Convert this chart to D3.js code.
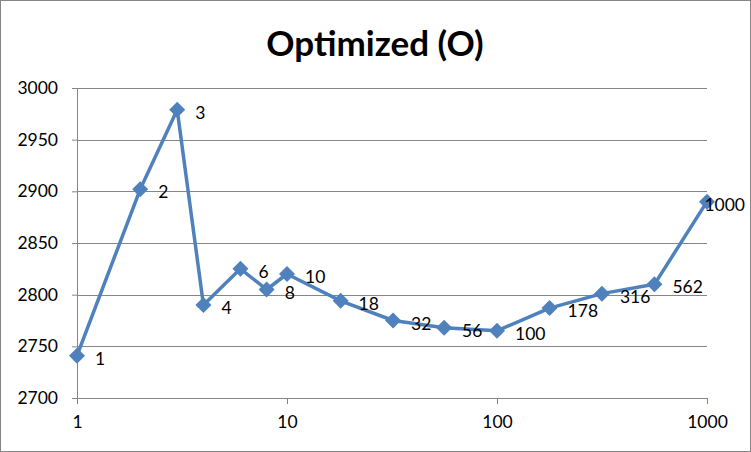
<!DOCTYPE html>
<html>
<head>
<meta charset="utf-8">
<script src="https://cdn.jsdelivr.net/npm/d3@7"></script>
<style>
  body { margin: 0; background: #fff; }
  svg { font-family: Lato, "Open Sans", sans-serif; }
</style>
</head>
<body>
<svg id="chart"></svg>
<script>
// data
const xValues = [1, 2, 3, 4, 6, 8, 10, 18, 32, 56, 100, 178, 316, 562, 1000];
const yValues = [2741, 2902, 2979, 2790, 2825, 2805, 2820, 2794, 2775, 2768, 2765, 2787, 2801, 2810, 2890];
const pointLabels = ["1", "2", "3", "4", "6", "8", "10", "18", "32", "56", "100", "178", "316", "562", "1000"];
const xTicks = [1, 10, 100, 1000];
const yTicks = [2700, 2750, 2800, 2850, 2900, 2950, 3000];

const width = 751, height = 452;
const margin = {top: 88, right: 44, bottom: 54, left: 77};
const innerWidth = width - margin.left - margin.right;
const innerHeight = height - margin.top - margin.bottom;

const svg = d3.select("#chart").attr("width", width).attr("height", height);

// chart border
svg.append("rect")
  .attr("x", 0.5).attr("y", 0.5)
  .attr("width", width - 1).attr("height", height - 1)
  .attr("fill", "#fff").attr("stroke", "#868686");

svg.append("text")
  .attr("x", 375).attr("y", 56)
  .attr("text-anchor", "middle")
  .style("font-size", "35px").style("font-weight", "bold")
  .text("Optimized (O)");

const g = svg.append("g").attr("transform", `translate(${margin.left},${margin.top})`);

const xScale = d3.scaleLog().domain([1, 1000]).range([0, innerWidth]);
const yScale = d3.scaleLinear().domain([2700, 3000]).range([innerHeight, 0]);

// gridlines
g.selectAll(".grid").data(yTicks.slice(1)).join("line")
  .attr("class", "grid")
  .attr("x1", 0).attr("x2", innerWidth)
  .attr("y1", d => Math.round(yScale(d)) + 0.5).attr("y2", d => Math.round(yScale(d)) + 0.5)
  .attr("stroke", "#868686");

const yAxis = d3.axisLeft(yScale).tickValues(yTicks).tickSize(5).tickPadding(14).tickFormat(d3.format("d"));
const xAxis = d3.axisBottom(xScale).tickValues(xTicks).tickSize(6).tickPadding(12).tickFormat(d3.format("d"));

g.append("g").attr("class", "y-axis").call(yAxis);
g.append("g").attr("class", "x-axis").attr("transform", `translate(0,${innerHeight})`).call(xAxis);

g.select(".y-axis .domain").attr("stroke", "#868686").attr("d", `M0.5,0V${innerHeight}`);
g.select(".x-axis .domain").attr("stroke", "#868686").attr("d", `M0,0.5H${innerWidth}`);
g.selectAll(".tick line").attr("stroke", "#868686");
g.selectAll(".tick text").style("font-size", "17.5px").attr("fill", "#000").style("font-family", "Lato, sans-serif");

const pts = xValues.map((x, i) => ({x, y: yValues[i], label: pointLabels[i]}));

const line = d3.line().x(d => xScale(d.x)).y(d => yScale(d.y));
g.append("path").datum(pts)
  .attr("d", line)
  .attr("fill", "none")
  .attr("stroke", "#4F81BD")
  .attr("stroke-width", 3.5)
  .attr("stroke-linejoin", "round");

g.selectAll(".marker").data(pts).join("path")
  .attr("class", "marker")
  .attr("transform", d => `translate(${xScale(d.x)},${yScale(d.y)})`)
  .attr("d", "M0,-8L8,0L0,8L-8,0Z")
  .attr("fill", "#4F81BD");

// labels sit right of the marker, pushed back in if they would run past the chart edge
g.selectAll(".plabel").data(pts).join("text")
  .attr("class", "plabel")
  .attr("y", d => yScale(d.y) + 3)
  .attr("dy", "0.35em")
  .style("font-size", "17.5px")
  .text(d => d.label)
  .attr("x", function(d) {
    const w = this.getComputedTextLength();
    return Math.min(xScale(d.x) + 18, width - margin.left - 6 - w);
  });
</script>
</body>
</html>
